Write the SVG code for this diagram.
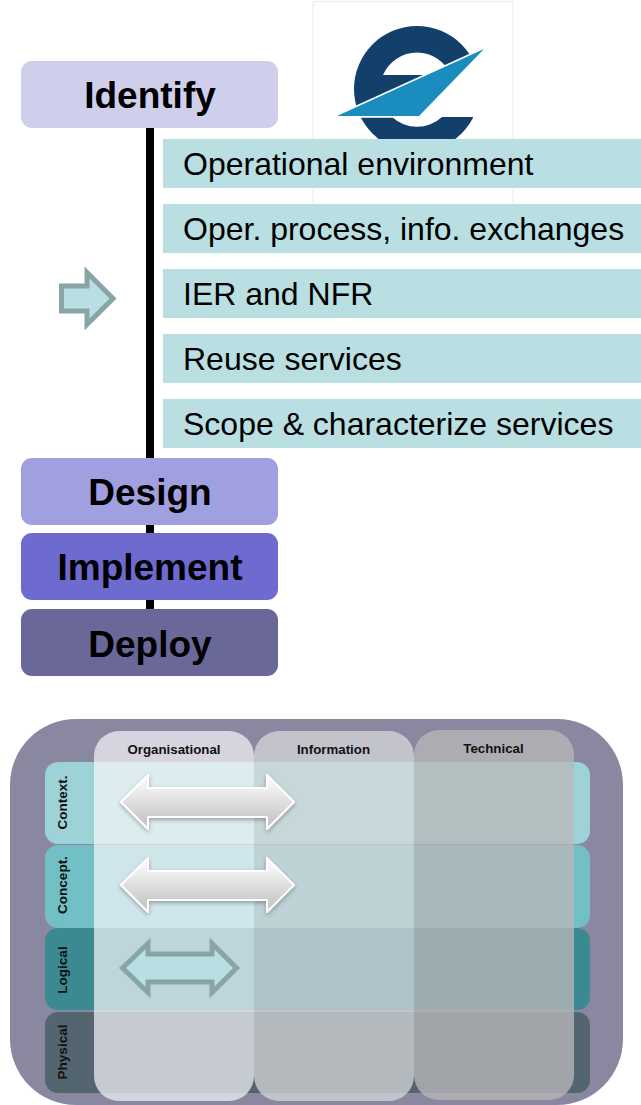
<svg xmlns="http://www.w3.org/2000/svg" width="641" height="1105" viewBox="0 0 641 1105">
<style>
text{font-family:"Liberation Sans",Arial,sans-serif;fill:#000}
.pill{stroke:none}
.title{font-size:37px;font-weight:bold;text-anchor:middle}
.bar{fill:#b9dfe2}
.step{font-size:32px}
.col{font-size:13.3px;font-weight:bold;text-anchor:middle;fill:#111}
.row{font-size:13.5px;font-weight:bold;text-anchor:middle;fill:#111}
.white{fill:url(#wg);stroke:#fff;stroke-width:2;stroke-linejoin:round;filter:url(#sh)}
.teal{fill:#b9dfe2;stroke:#87a5a7;stroke-width:5;stroke-linejoin:miter}
</style>
<defs>
<linearGradient id="wg" x1="0" y1="0" x2="0" y2="1"><stop offset="0.15" stop-color="#f6f6f6"/><stop offset="0.85" stop-color="#c8c8c8"/></linearGradient>
<filter id="sh" x="-10%" y="-20%" width="120%" height="150%"><feDropShadow dx="0" dy="2" stdDeviation="2" flood-color="#000" flood-opacity="0.3"/></filter>
</defs>
<rect width="641" height="1105" fill="#fff"/>
<g id="logo">
<rect x="313" y="1.5" width="200" height="203" fill="#fff" stroke="#eeeeee" stroke-width="1.2"/>
<circle cx="417" cy="89" r="63" fill="#133f6b"/>
<path d="M383 75A37 37 0 0 1 451 75Z" fill="#fff"/>
<path d="M392 117A37 37 0 0 0 442 117Z" fill="#fff"/>
<path d="M484 47L500 47L500 117L419 117Z" fill="#fff"/>
<path d="M484 49L337 116L419 116Z" fill="none" stroke="#fff" stroke-width="3.5"/>
<path d="M484 49L337 116L419 116Z" fill="#1a8cbd"/>
</g>
<g id="connectors">
<rect x="146" y="128" width="8" height="482" fill="#000"/>
</g>
<g id="identify"><rect class="pill" x="21" y="61" width="257" height="67" rx="11" fill="#cfcfec"/><text class="title" x="150" y="108">Identify</text></g>
<g id="design"><rect class="pill" x="21" y="458" width="257" height="67" rx="11" fill="#a09fe0"/><text class="title" x="150" y="505">Design</text></g>
<g id="implement"><rect class="pill" x="21" y="533" width="257" height="67" rx="11" fill="#6d6ad0"/><text class="title" x="150" y="580">Implement</text></g>
<g id="deploy"><rect class="pill" x="21" y="609" width="257" height="67" rx="11" fill="#6a6898"/><text class="title" x="150" y="657">Deploy</text></g>
<g id="step1"><rect class="bar" x="163" y="139" width="478" height="49"/><text class="step" x="183" y="175">Operational environment</text></g>
<g id="step2"><rect class="bar" x="163" y="204" width="478" height="49"/><text class="step" x="183" y="240">Oper. process, info. exchanges</text></g>
<g id="step3"><rect class="bar" x="163" y="269" width="478" height="49"/><text class="step" x="183" y="305">IER and NFR</text></g>
<g id="step4"><rect class="bar" x="163" y="334" width="478" height="49"/><text class="step" x="183" y="370">Reuse services</text></g>
<g id="step5"><rect class="bar" x="163" y="399" width="478" height="49"/><text class="step" x="183" y="435">Scope &amp; characterize services</text></g>
<g id="pointer"><path class="teal" d="M61.500 286H87V272.500L113 298.500L87 324.500V311H61.500Z"/></g>
<g id="matrix">
<rect x="10" y="719" width="613" height="386" rx="66" fill="#8a88a0"/>
<rect x="45" y="762" width="545" height="82" rx="13" fill="#9dd3d6"/>
<rect x="45" y="845" width="545" height="83" rx="13" fill="#72bfc5"/>
<rect x="45" y="928" width="545" height="82" rx="13" fill="#3b8a91"/>
<rect x="45" y="1012" width="545" height="81" rx="13" fill="#53656f"/>
<rect x="94" y="731" width="160" height="370" rx="25" fill="#f7f7fa" fill-opacity="0.7"/>
<rect x="254" y="731" width="160" height="370" rx="25" fill="#d8d8dc" fill-opacity="0.73"/>
<rect x="414" y="730" width="160" height="370" rx="25" fill="#b9b7b9" fill-opacity="0.77"/>
</g>
<g id="col-organisational"><text class="col" x="174" y="754">Organisational</text></g>
<g id="col-information"><text class="col" x="333.500" y="754">Information</text></g>
<g id="col-technical"><text class="col" x="493.500" y="752.500">Technical</text></g>
<g id="row-context"><text class="row" transform="translate(67 802.500) rotate(-90)">Context.</text></g>
<g id="row-concept"><text class="row" transform="translate(67 885) rotate(-90)">Concept.</text></g>
<g id="row-logical"><text class="row" transform="translate(67 970) rotate(-90)">Logical</text></g>
<g id="row-physical"><text class="row" transform="translate(67 1052) rotate(-90)">Physical</text></g>
<g id="arrow-context"><path class="white" d="M121 802L148 775V788H267V775L294 802L267 829V817H148V829Z"/></g>
<g id="arrow-concept"><path class="white" d="M121 885L148 858V871H267V858L294 885L267 912V900H148V912Z"/></g>
<g id="arrow-logical"><path class="teal" d="M122.500 968L148 943.500V954H212V943.500L236.500 968L212 992.500V982H148V992.500Z"/></g>
</svg>
